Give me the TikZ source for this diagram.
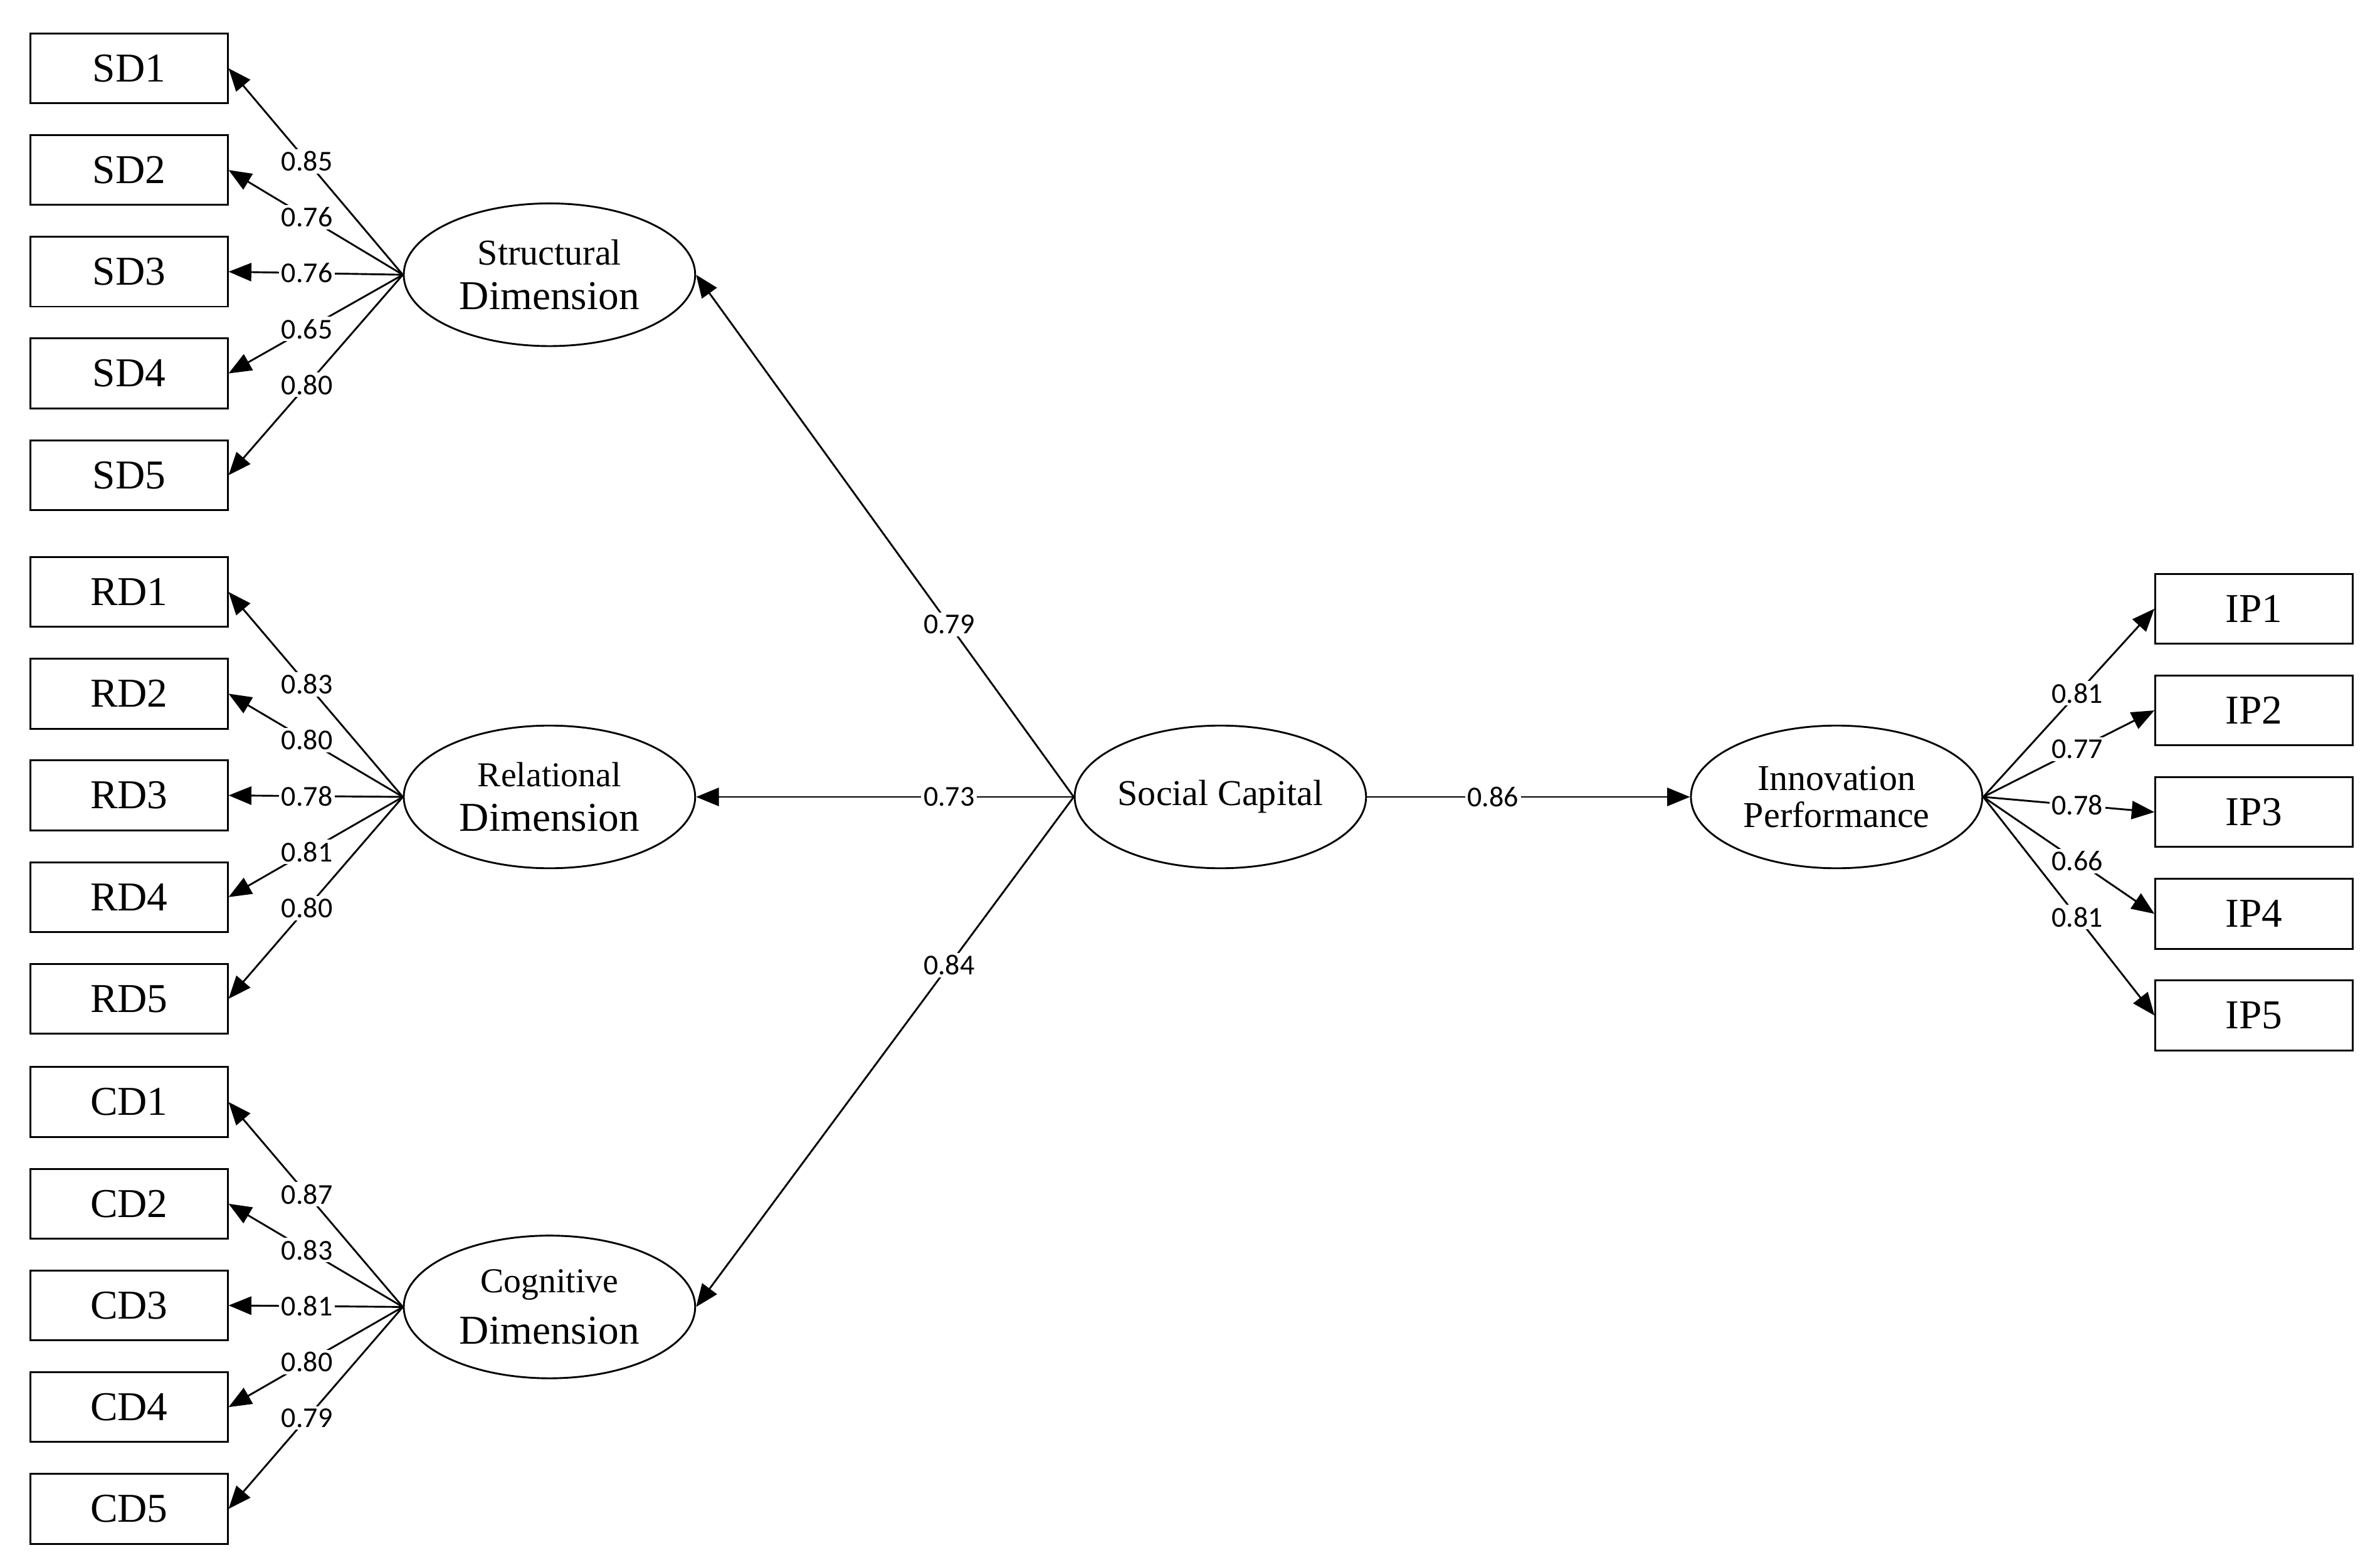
\documentclass[tikz,border=0pt]{standalone}
\usepackage{fontspec}
\setmainfont{Liberation Serif}
\newfontfamily\lab{Carlito}
\usetikzlibrary{shapes.geometric,arrows.meta}
\begin{document}
\begin{tikzpicture}[x=1pt,y=-1pt,
 box/.style={draw,line width=1.2pt,minimum width=130pt,minimum height=46pt,inner sep=0pt,font=\fontsize{27}{30}\selectfont},
 lat/.style={draw,ellipse,line width=1.2pt,minimum width=192pt,minimum height=94pt,inner sep=0pt,align=center},
 arr/.style={line width=1.2pt,-{Triangle[length=15pt,width=12pt]}},
 lb/.style={fill=white,inner sep=1.5pt,font=\fontsize{19}{19}\lab}]
\useasboundingbox (0,0) rectangle (1568,1031);
\node[lat] (S) at (362,181) {\fontsize{24}{28}\selectfont Structural\\[10pt]\fontsize{27}{30}\selectfont Dimension};
\node[lat] (R) at (362,525) {\fontsize{23}{28}\selectfont Relational\\[10pt]\fontsize{27}{30}\selectfont Dimension};
\node[lat] (C) at (362,861) {\fontsize{23}{28}\selectfont Cognitive\\[10pt]\fontsize{27}{30}\selectfont Dimension};
\node[lat] (SC) at (804,525) {\fontsize{24}{30}\selectfont Social Capital};
\node[lat] (IP) at (1210,525) {\fontsize{24}{28}\selectfont Innovation\\[6pt]\fontsize{24}{28}\selectfont Performance};
\foreach \p/\ys/\L/\vals in {SD/45/S/{0.85,0.76,0.76,0.65,0.80},RD/390/R/{0.83,0.80,0.78,0.81,0.80},CD/726/C/{0.87,0.83,0.81,0.80,0.79}}{
 \foreach \v [count=\i] in \vals {
  \node[box] (\p\i) at (85,{\ys+(\i-1)*67}) {\p\i};
  \draw[arr] (\L.west) -- node[lb,pos=0.55]{\v} (\p\i.east);
 }}
\foreach \v [count=\i] in {0.81,0.77,0.78,0.66,0.81}{
  \node[box] (IP\i) at (1485,{401+(\i-1)*67}) {IP\i};
  \draw[arr] (IP.east) -- node[lb,pos=0.55]{\v} (IP\i.west);
}
\draw[arr] (SC.west) -- node[lb,pos=0.33]{0.79} (S.east);
\draw[arr] (SC.west) -- node[lb,pos=0.33]{0.73} (R.east);
\draw[arr] (SC.west) -- node[lb,pos=0.33]{0.84} (C.east);
\draw[arr] (SC.east) -- node[lb,pos=0.39]{0.86} (IP.west);
\end{tikzpicture}
\end{document}
